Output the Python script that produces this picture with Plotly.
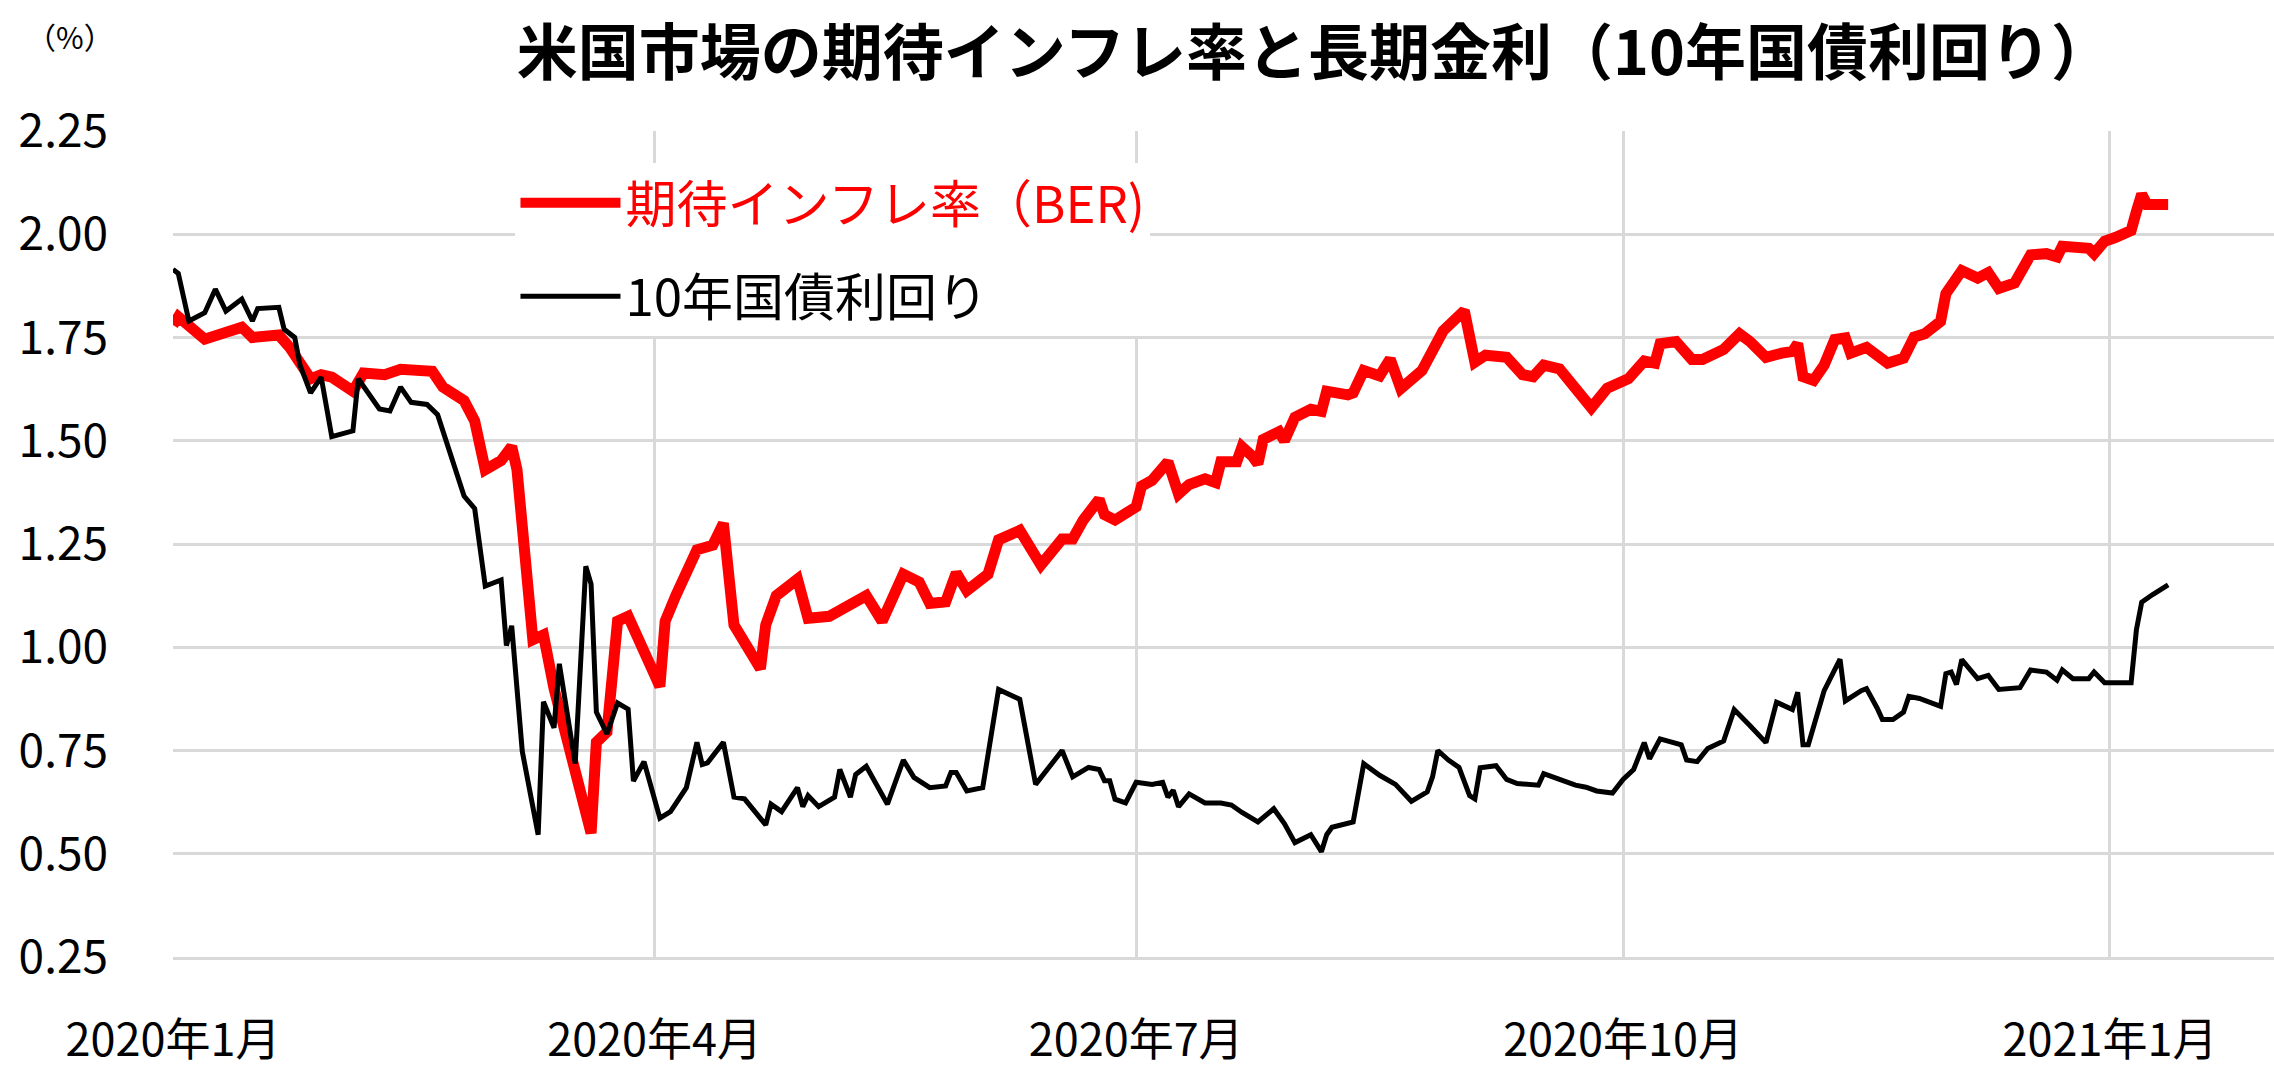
import plotly.graph_objects as go

# ---------------- data ----------------
ber_dates = [
    "2020-01-01", "2020-01-02", "2020-01-07", "2020-01-10", "2020-01-14", "2020-01-16", "2020-01-21",
    "2020-01-23", "2020-01-25", "2020-01-27", "2020-01-29", "2020-01-31", "2020-02-04", "2020-02-06",
    "2020-02-10", "2020-02-13", "2020-02-19", "2020-02-21", "2020-02-25", "2020-02-27", "2020-02-29",
    "2020-03-03", "2020-03-05", "2020-03-06", "2020-03-09", "2020-03-11", "2020-03-13", "2020-03-16",
    "2020-03-20", "2020-03-21", "2020-03-23", "2020-03-25", "2020-03-27", "2020-04-02", "2020-04-03",
    "2020-04-05", "2020-04-09", "2020-04-12", "2020-04-14", "2020-04-16", "2020-04-21", "2020-04-22",
    "2020-04-24", "2020-04-28", "2020-04-30", "2020-05-04", "2020-05-07", "2020-05-11", "2020-05-14",
    "2020-05-18", "2020-05-21", "2020-05-23", "2020-05-26", "2020-05-28", "2020-05-30", "2020-06-03",
    "2020-06-05", "2020-06-09", "2020-06-13", "2020-06-15", "2020-06-17", "2020-06-19", "2020-06-21",
    "2020-06-24", "2020-06-25", "2020-06-27", "2020-07-01", "2020-07-02", "2020-07-04", "2020-07-07",
    "2020-07-09", "2020-07-11", "2020-07-14", "2020-07-16", "2020-07-17", "2020-07-20", "2020-07-21",
    "2020-07-23", "2020-07-24", "2020-07-25", "2020-07-28", "2020-07-29", "2020-07-31", "2020-08-03",
    "2020-08-05", "2020-08-06", "2020-08-10", "2020-08-11", "2020-08-13", "2020-08-16", "2020-08-18",
    "2020-08-20", "2020-08-24", "2020-08-28", "2020-08-31", "2020-09-01", "2020-09-03", "2020-09-05",
    "2020-09-09", "2020-09-12", "2020-09-14", "2020-09-16", "2020-09-19", "2020-09-22", "2020-09-25",
    "2020-09-28", "2020-10-02", "2020-10-05", "2020-10-07", "2020-10-08", "2020-10-11", "2020-10-14",
    "2020-10-16", "2020-10-20", "2020-10-23", "2020-10-25", "2020-10-28", "2020-10-31", "2020-11-02",
    "2020-11-03", "2020-11-04", "2020-11-06", "2020-11-08", "2020-11-10", "2020-11-12", "2020-11-13",
    "2020-11-16", "2020-11-20", "2020-11-23", "2020-11-25", "2020-11-27", "2020-11-30", "2020-12-01",
    "2020-12-04", "2020-12-07", "2020-12-09", "2020-12-11", "2020-12-14", "2020-12-17", "2020-12-20",
    "2020-12-22", "2020-12-23", "2020-12-27", "2020-12-28", "2020-12-29", "2020-12-31", "2021-01-02",
    "2021-01-05", "2021-01-06", "2021-01-07", "2021-01-08", "2021-01-12",
]
ber_values = [
    1.78, 1.80, 1.746, 1.756, 1.775, 1.75, 1.756,
    1.727, 1.683, 1.65, 1.66, 1.654, 1.62, 1.664,
    1.66, 1.673, 1.668, 1.63, 1.597, 1.548, 1.43,
    1.452, 1.486, 1.43, 1.018, 1.03, 0.90, 0.738,
    0.55, 0.77, 0.795, 1.063, 1.075, 0.905, 1.063,
    1.125, 1.236, 1.247, 1.30, 1.054, 0.948, 1.054,
    1.125, 1.165, 1.07, 1.075, 1.094, 1.125, 1.063,
    1.177, 1.158, 1.106, 1.11, 1.18, 1.137, 1.177,
    1.26, 1.283, 1.199, 1.226, 1.262, 1.262, 1.308,
    1.358, 1.321, 1.308, 1.34, 1.39, 1.404, 1.449,
    1.371, 1.394, 1.408, 1.399, 1.449, 1.449, 1.485,
    1.462, 1.444, 1.503, 1.522, 1.50, 1.557, 1.576,
    1.571, 1.62, 1.611, 1.616, 1.67, 1.657, 1.698,
    1.626, 1.67, 1.766, 1.808, 1.815, 1.69, 1.707,
    1.702, 1.66, 1.655, 1.683, 1.674, 1.623, 1.58,
    1.627, 1.65, 1.693, 1.688, 1.735, 1.74, 1.697,
    1.697, 1.721, 1.759, 1.74, 1.702, 1.712, 1.716,
    1.735, 1.655, 1.646, 1.683, 1.745, 1.749, 1.712,
    1.726, 1.688, 1.70, 1.751, 1.759, 1.789, 1.856,
    1.912, 1.894, 1.907, 1.869, 1.882, 1.95, 1.953,
    1.945, 1.971, 1.966, 1.966, 1.953, 1.983, 1.992,
    2.009, 2.055, 2.097, 2.072, 2.072,
]

ust_dates = [
    "2020-01-01", "2020-01-02", "2020-01-04", "2020-01-07", "2020-01-09", "2020-01-11", "2020-01-14",
    "2020-01-16", "2020-01-17", "2020-01-21", "2020-01-22", "2020-01-24", "2020-01-25", "2020-01-27",
    "2020-01-29", "2020-01-30", "2020-01-31", "2020-02-04", "2020-02-05", "2020-02-09", "2020-02-11",
    "2020-02-13", "2020-02-15", "2020-02-18", "2020-02-20", "2020-02-25", "2020-02-27", "2020-02-29",
    "2020-03-03", "2020-03-04", "2020-03-05", "2020-03-07", "2020-03-10", "2020-03-11", "2020-03-13",
    "2020-03-14", "2020-03-17", "2020-03-19", "2020-03-20", "2020-03-21", "2020-03-23", "2020-03-25",
    "2020-03-27", "2020-03-28", "2020-03-30", "2020-04-02", "2020-04-04", "2020-04-07", "2020-04-09",
    "2020-04-10", "2020-04-11", "2020-04-14", "2020-04-16", "2020-04-18", "2020-04-22", "2020-04-23",
    "2020-04-25", "2020-04-28", "2020-04-29", "2020-04-30", "2020-05-02", "2020-05-05", "2020-05-06",
    "2020-05-08", "2020-05-09", "2020-05-11", "2020-05-15", "2020-05-18", "2020-05-20", "2020-05-23",
    "2020-05-26", "2020-05-27", "2020-05-28", "2020-05-30", "2020-06-02", "2020-06-05", "2020-06-09",
    "2020-06-12", "2020-06-15", "2020-06-17", "2020-06-19", "2020-06-22", "2020-06-24", "2020-06-25",
    "2020-06-26", "2020-06-27", "2020-06-29", "2020-07-01", "2020-07-04", "2020-07-06", "2020-07-07",
    "2020-07-08", "2020-07-09", "2020-07-11", "2020-07-14", "2020-07-17", "2020-07-19", "2020-07-21",
    "2020-07-24", "2020-07-27", "2020-07-29", "2020-07-31", "2020-08-03", "2020-08-05", "2020-08-06",
    "2020-08-07", "2020-08-11", "2020-08-13", "2020-08-16", "2020-08-19", "2020-08-22", "2020-08-25",
    "2020-08-26", "2020-08-27", "2020-08-29", "2020-08-31", "2020-09-02", "2020-09-03", "2020-09-04",
    "2020-09-07", "2020-09-09", "2020-09-11", "2020-09-15", "2020-09-16", "2020-09-19", "2020-09-22",
    "2020-09-24", "2020-09-26", "2020-09-29", "2020-10-01", "2020-10-03", "2020-10-05", "2020-10-06",
    "2020-10-08", "2020-10-12", "2020-10-13", "2020-10-15", "2020-10-17", "2020-10-20", "2020-10-22",
    "2020-10-25", "2020-10-28", "2020-10-30", "2020-11-02", "2020-11-03", "2020-11-04", "2020-11-05",
    "2020-11-08", "2020-11-11", "2020-11-12", "2020-11-15", "2020-11-16", "2020-11-18", "2020-11-19",
    "2020-11-21", "2020-11-23", "2020-11-24", "2020-11-26", "2020-11-30", "2020-12-01", "2020-12-02",
    "2020-12-03", "2020-12-04", "2020-12-07", "2020-12-09", "2020-12-11", "2020-12-15", "2020-12-17",
    "2020-12-20", "2020-12-22", "2020-12-23", "2020-12-25", "2020-12-28", "2020-12-29", "2020-12-31",
    "2021-01-05", "2021-01-06", "2021-01-07", "2021-01-09", "2021-01-12",
]
ust_values = [
    1.915, 1.905, 1.79, 1.81, 1.867, 1.814, 1.843,
    1.79, 1.82, 1.823, 1.77, 1.75, 1.683, 1.616,
    1.654, 1.582, 1.51, 1.524, 1.65, 1.577, 1.572,
    1.63, 1.593, 1.588, 1.563, 1.366, 1.336, 1.148,
    1.163, 1.004, 1.052, 0.748, 0.546, 0.868, 0.805,
    0.96, 0.718, 1.196, 1.153, 0.843, 0.79, 0.865,
    0.85, 0.676, 0.723, 0.586, 0.602, 0.66, 0.77,
    0.716, 0.72, 0.77, 0.637, 0.633, 0.57, 0.62,
    0.602, 0.66, 0.614, 0.641, 0.614, 0.637, 0.704,
    0.637, 0.692, 0.712, 0.62, 0.727, 0.685, 0.66,
    0.664, 0.697, 0.697, 0.652, 0.66, 0.898, 0.874,
    0.668, 0.718, 0.75, 0.686, 0.709, 0.704, 0.677,
    0.677, 0.632, 0.623, 0.673, 0.668, 0.673, 0.637,
    0.654, 0.614, 0.645, 0.623, 0.623, 0.618, 0.60,
    0.577, 0.609, 0.573, 0.527, 0.546, 0.505, 0.546,
    0.564, 0.577, 0.718, 0.69, 0.668, 0.627, 0.65,
    0.686, 0.75, 0.727, 0.709, 0.641, 0.633, 0.708,
    0.713, 0.68, 0.67, 0.666, 0.694, 0.68, 0.666,
    0.661, 0.652, 0.647, 0.68, 0.704, 0.769, 0.73,
    0.778, 0.764, 0.727, 0.723, 0.755, 0.773, 0.849,
    0.81, 0.769, 0.867, 0.849, 0.891, 0.764, 0.764,
    0.895, 0.971, 0.87, 0.895, 0.90, 0.853, 0.825,
    0.825, 0.843, 0.881, 0.876, 0.857, 0.936, 0.94,
    0.91, 0.97, 0.924, 0.932, 0.898, 0.902, 0.945,
    0.94, 0.92, 0.945, 0.924, 0.924, 0.94, 0.914,
    0.914, 1.042, 1.109, 1.127, 1.151,
]

x_tick_dates = ["2020-01-01", "2020-04-01", "2020-07-01", "2020-10-01", "2021-01-01"]
x_tick_labels = ["2020年1月", "2020年4月", "2020年7月", "2020年10月", "2021年1月"]
y_ticks = [0.25, 0.50, 0.75, 1.00, 1.25, 1.50, 1.75, 2.00, 2.25]

series_names = ["期待インフレ率（BER)", "10年国債利回り"]
title_text = "米国市場の期待インフレ率と長期金利（10年国債利回り）"
unit_text = "（%）"

FONT = "Noto Sans CJK JP"
GRID = "#d9d9d9"

fig = go.Figure()
fig.add_trace(go.Scatter(
    x=ber_dates, y=ber_values, mode="lines",
    name="<span style='color:#ff0000'>" + series_names[0] + "</span>",
    legendgroup="a",
    line=dict(color="#ff0000", width=11),
))
fig.add_trace(go.Scatter(
    x=ust_dates, y=ust_values, mode="lines",
    name=series_names[1],
    legendgroup="b",
    line=dict(color="#000000", width=5),
))

fig.update_layout(
    width=2274, height=1069,
    margin=dict(l=173, r=0, t=131, b=92, pad=0),
    paper_bgcolor="white", plot_bgcolor="white",
    font=dict(family=FONT, color="#000000"),
    title=dict(
        text="<b>" + title_text + "</b>",
        x=0.578, xanchor="center", y=1 - 54 / 1069, yanchor="middle",
        font=dict(family=FONT, size=61, color="#000000"),
    ),
    legend=dict(
        x=0.163, y=0.961, xanchor="left", yanchor="top",
        bgcolor="white", borderwidth=0,
        font=dict(family=FONT, size=51, color="#000000"),
        tracegroupgap=24,
        itemwidth=100,
    ),
    showlegend=True,
    xaxis=dict(
        type="date",
        range=["2020-01-01", "2021-02-01"],
        tickmode="array", tickvals=x_tick_dates, ticktext=x_tick_labels,
        showgrid=True, gridcolor=GRID, gridwidth=3,
        showline=True, linecolor=GRID, linewidth=3,
        zeroline=False, ticks="",
        tickfont=dict(family=FONT, size=45, color="#000000"),
        ticklabelstandoff=42,
    ),
    yaxis=dict(
        range=[0.25, 2.25],
        tickmode="array", tickvals=y_ticks,
        tickformat=".2f",
        showgrid=True, gridcolor=GRID, gridwidth=3,
        showline=False,
        zeroline=False, ticks="",
        tickfont=dict(family=FONT, size=46, color="#000000"),
        ticklabelstandoff=64,
    ),
    annotations=[dict(
        text=unit_text, xref="paper", yref="paper",
        x=(70 - 173) / 2101, y=(977 - 34) / 846,
        xanchor="center", yanchor="middle", showarrow=False,
        font=dict(family=FONT, size=30, color="#000000"),
    )],
)

fig.write_html("out.html", config={"displayModeBar": False},
               post_script="document.body.style.margin='0';")
